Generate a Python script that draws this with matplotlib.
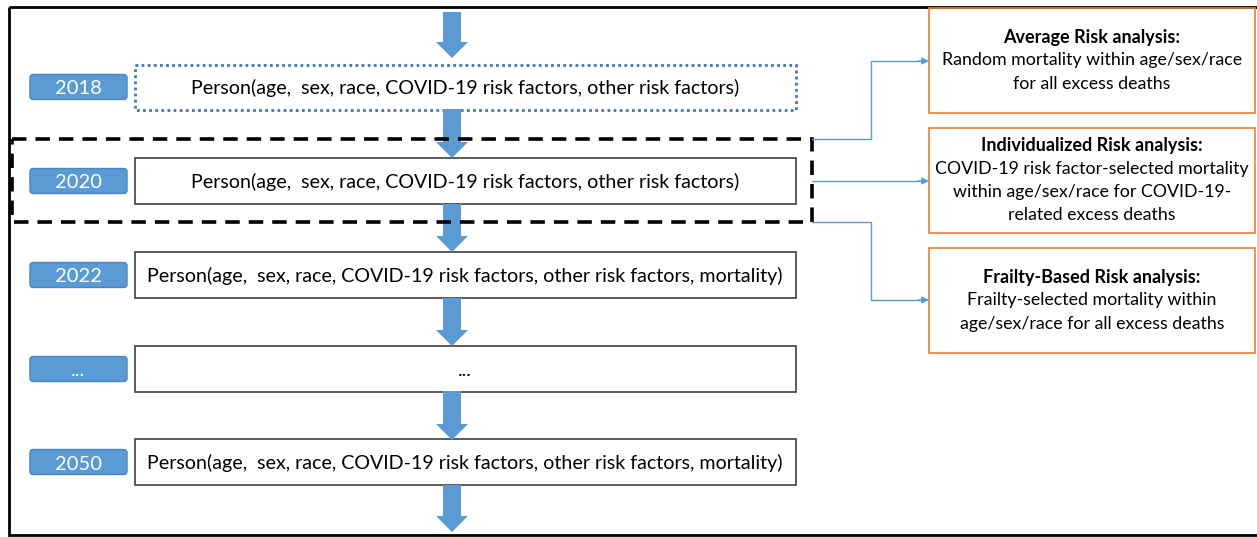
import matplotlib.pyplot as plt
from matplotlib.patches import FancyBboxPatch, Rectangle, FancyArrow

plt.rcParams['font.family'] = ['Lato', 'DejaVu Sans']

years = ['2018', '2020', '2022', '...', '2050']
person_text = [
    'Person(age,  sex, race, COVID-19 risk factors, other risk factors)',
    'Person(age,  sex, race, COVID-19 risk factors, other risk factors)',
    'Person(age,  sex, race, COVID-19 risk factors, other risk factors, mortality)',
    '...',
    'Person(age,  sex, race, COVID-19 risk factors, other risk factors, mortality)',
]
row_y = [87, 181, 275, 369, 462]

analysis_titles = ['Average Risk analysis:', 'Individualized Risk analysis:',
                   'Frailty-Based Risk analysis:']
analysis_lines = [
    ['Random mortality within age/sex/race', 'for all excess deaths'],
    ['COVID-19 risk factor-selected mortality', 'within age/sex/race for COVID-19-',
     'related excess deaths'],
    ['Frailty-selected mortality within', 'age/sex/race for all excess deaths'],
]
analysis_box = [(8, 113), (128, 233), (248, 353)]

blue = '#5B9BD5'
W, H = 1257, 537
fig = plt.figure(figsize=(W / 100, H / 100), dpi=100)
ax = fig.add_axes([0, 0, 1, 1])
ax.set_xlim(0, W)
ax.set_ylim(H, 0)
ax.axis('off')

# outer frame
ax.add_patch(Rectangle((9, 7), 1250, 528, fill=False, ec='black', lw=2))

# person boxes + year labels
for i, (yr, txt, y) in enumerate(zip(years, person_text, row_y)):
    ax.add_patch(FancyBboxPatch((30, y - 12.5), 97, 25,
                                boxstyle='round,pad=0,rounding_size=3',
                                fc=blue, ec='#4A86C0', lw=1))
    ax.text(78, y + 2, yr, color='white', ha='center', va='center', fontsize=14.5)
    if i == 0:
        ax.add_patch(Rectangle((135, y - 22), 661, 45, fill=False,
                               ec='#4472C4', lw=2, ls=(0, (1, 1.2))))
    else:
        ax.add_patch(Rectangle((135, y - 23), 661, 46, fill=False,
                               ec='#404040', lw=1.2))
    ax.text(465, y + 1, txt, ha='center', va='center', fontsize=14.1,
            color='black')

# down arrows
arrow_spans = [(12, 58), (109, 158), (204, 252), (298, 346), (391, 440), (485, 532)]
for y0, y1 in arrow_spans:
    ax.add_patch(FancyArrow(452, y0, 0, y1 - y0, width=18, head_width=32,
                            head_length=16, length_includes_head=True,
                            fc=blue, ec='none'))

# dashed selection box
ax.add_patch(Rectangle((12, 139), 800, 83, fill=False, ec='black', lw=2.6,
                       ls=(0, (4, 2.5))))

# analysis boxes
for (top, bot), title, lines in zip(analysis_box, analysis_titles, analysis_lines):
    ax.add_patch(Rectangle((929, top), 326, bot - top, fill=False,
                           ec='#ED7D31', lw=1.2))
    n = len(lines) + 1
    cy = (top + bot) / 2
    ys = [cy + (k - (n - 1) / 2) * 23.3 for k in range(n)]
    ax.text(1092, ys[0], title, ha='center', va='center', fontsize=13,
            fontweight='bold')
    for ln, yy in zip(lines, ys[1:]):
        ax.text(1092, yy, ln, ha='center', va='center', fontsize=12.8)

# connectors
conn = '#5B9BD5'
ax.plot([812, 871, 871, 922], [139, 139, 61, 61], color=conn, lw=1)
ax.plot([812, 922], [181, 181], color=conn, lw=1)
ax.plot([812, 871, 871, 922], [222, 222, 300, 300], color=conn, lw=1)
for yy in (61, 181, 300):
    ax.annotate('', xy=(929, yy), xytext=(918, yy),
                arrowprops=dict(arrowstyle='-|>', color=conn, lw=1,
                                mutation_scale=10, shrinkA=0, shrinkB=0))

fig.savefig('out.png', dpi=100)
